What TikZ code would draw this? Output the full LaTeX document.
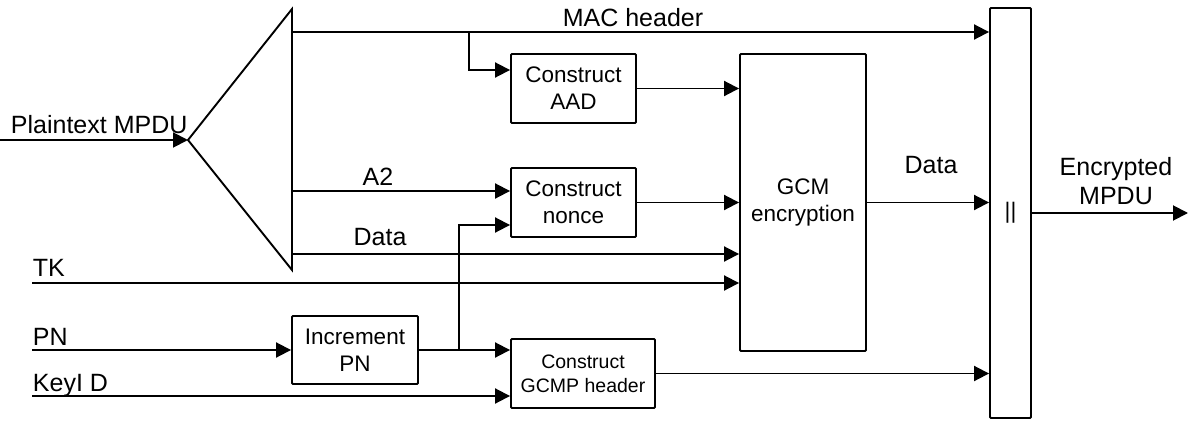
\documentclass[tikz,border=0pt]{standalone}
\usepackage{fontspec}
\setmainfont{Liberation Sans}
\usetikzlibrary{arrows.meta,calc}

\begin{document}
\begin{tikzpicture}[x=1pt,y=-1pt,line width=1.9pt,
    >={Triangle[length=15pt,width=15pt]},
    blk/.style={draw,rounded corners=1pt,align=center,inner sep=0pt,
      font=\fontsize{22.5}{27}\selectfont},
    lbl/.style={inner sep=0pt,font=\fontsize{25}{29}\selectfont}]
  \useasboundingbox (0,0) rectangle (1188,423);

  % Splitter triangle
  \coordinate (apex) at (188,140);
  \coordinate (ttop) at (292,9);
  \coordinate (tbot) at (292,270);
  \draw[line join=miter] (apex) -- (ttop) -- (tbot) -- cycle;

  % Boxes
  \node[blk,minimum width=125pt,minimum height=69pt] (aad) at (573.5,88.5) {Construct\\AAD};
  \node[blk,minimum width=125pt,minimum height=69pt] (nonce) at (573.5,202.5) {Construct\\nonce};
  \node[blk,minimum width=126pt,minimum height=297pt] (gcm) at (803,202.5) {GCM\\encryption};
  \node[blk,minimum width=126pt,minimum height=68pt] (incr) at (355,350) {Increment\\PN};
  \node[blk,minimum width=144pt,minimum height=69pt,
    font=\fontsize{19.5}{24}\selectfont] (gcmp) at (583,373.5) {Construct\\GCMP header};
  \node[blk,minimum width=41pt,minimum height=410pt] (cat) at (1010.5,213) {||};

  % Inputs
  \coordinate (pin) at (0,140);
  \coordinate (mac) at (292,32);
  \coordinate (macbr) at (469,32);
  \coordinate (a2) at (292,191);
  \coordinate (data) at (292,254);
  \coordinate (tk) at (32,283);
  \coordinate (pn) at (32,350);
  \coordinate (keyid) at (32,396);
  \coordinate (tap) at (459,350);
  \coordinate (out) at (1188,213);

  % Connectors
  \draw[->] (pin) -- (apex);
  \draw[->] (mac) -- (cat.west |- mac);
  \draw[->] (macbr) |- ($(aad.west)+(0,-18.5)$);
  \draw[->] (aad.east) -- (gcm.west |- aad.east);
  \draw[->] (a2) -- (nonce.west |- a2);
  \draw[->] (tap) |- ($(nonce.west)+(0,22.5)$);
  \draw[->] (nonce.east) -- (gcm.west |- nonce.east);
  \draw[->] (data) -- (gcm.west |- data);
  \draw[->] (tk) -- (gcm.west |- tk);
  \draw[->] (pn) -- (incr.west);
  \draw[->] (incr.east) -- (gcmp.west |- incr.east);
  \draw[->] (keyid) -- (gcmp.west |- keyid);
  \draw[->] (gcm.east) -- (cat.west |- gcm.east);
  \draw[->] (gcmp.east) -- (cat.west |- gcmp.east);
  \draw[->] (cat.east) -- (out);

  % Labels
  \node[lbl,anchor=base west] (lpin) at (10,133) {Plaintext MPDU};
  \node[lbl,anchor=base] (lmac) at (633,27) {MAC header};
  \node[lbl,anchor=base] (la2) at (378,185) {A2};
  \node[lbl,anchor=base] (ldata) at (380,245) {Data};
  \node[lbl,anchor=base west] (ltk) at (32,276) {TK};
  \node[lbl,anchor=base west] (lpn) at (32,345) {PN};
  \node[lbl,anchor=base west] (lkey) at (32,391) {KeyI D};
  \node[lbl,anchor=base] (lenc) at (931,173) {Data};
  \node[lbl,align=center] (lout) at (1116,181) {Encrypted\\MPDU};
\end{tikzpicture}
\end{document}
